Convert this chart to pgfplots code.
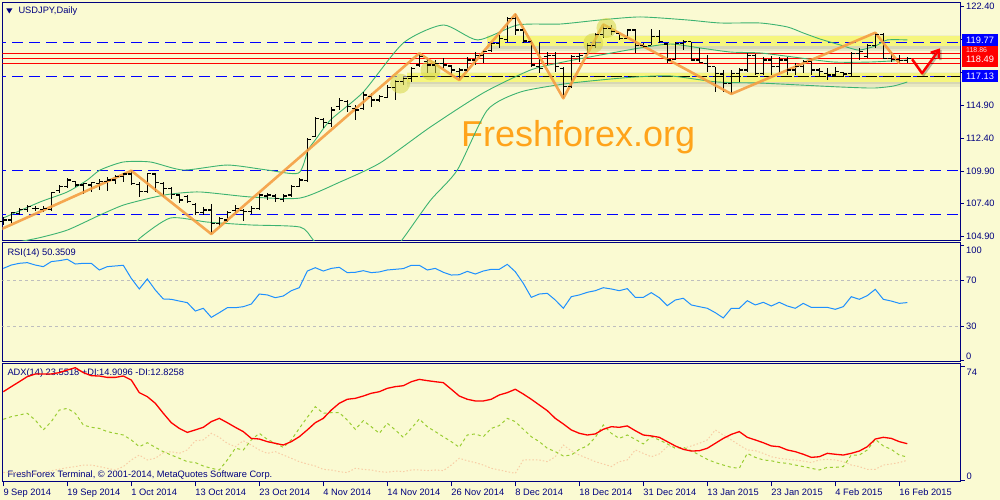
\documentclass[border=0pt]{standalone}
\usepackage{pgfplots}
\pgfplotsset{compat=1.18}
\usepackage{pgfplotstable}
\usepackage{fontspec}
\setmainfont{Liberation Sans}
\usetikzlibrary{arrows.meta}

\definecolor{bgc}{RGB}{250,250,210}
\definecolor{navyc}{RGB}{0,0,128}
\definecolor{bbgreen}{RGB}{60,179,113}
\definecolor{zz}{RGB}{245,158,66}
\definecolor{wm}{RGB}{255,163,26}
\definecolor{bandy}{RGB}{246,246,125}
\definecolor{rsic}{RGB}{30,144,255}
\definecolor{pdic}{RGB}{154,205,50}
\definecolor{mdic}{RGB}{248,205,165}
\definecolor{lvl}{RGB}{190,190,190}
\definecolor{hl}{RGB}{215,215,70}

\newcommand\lbl{\fontsize{9.3}{10}\selectfont}

\pgfdeclareplotmark{openL}{\pgfpathmoveto{\pgfqpoint{-3.5pt}{0pt}}\pgfpathlineto{\pgfqpoint{0pt}{0pt}}\pgfusepathqstroke}
\pgfdeclareplotmark{closeR}{\pgfpathmoveto{\pgfqpoint{0pt}{0pt}}\pgfpathlineto{\pgfqpoint{3.5pt}{0pt}}\pgfusepathqstroke}

\pgfplotstableread{
i O H L C
0 106.04 106.42 105.79 106.17
1 106.17 106.80 105.97 106.73
2 106.68 107.06 106.55 106.98
3 106.98 107.31 106.80 107.18
4 107.06 107.23 106.88 107.06
5 106.98 107.23 106.80 107.06
6 106.98 108.32 106.88 108.25
7 108.40 108.83 108.25 108.70
8 108.70 109.34 108.58 109.21
9 109.09 109.16 108.70 108.83
10 108.83 108.96 108.15 108.96
11 108.83 109.09 108.33 109.01
12 108.96 109.26 108.45 109.09
13 109.09 109.47 108.40 109.21
14 109.21 109.59 108.91 109.47
15 109.47 109.72 109.09 109.67
16 109.67 109.92 108.83 108.96
17 108.88 109.09 107.95 108.33
18 108.33 109.77 108.25 109.72
19 109.67 109.72 108.33 109.01
20 108.96 109.09 107.95 108.58
21 108.55 108.70 107.80 108.10
22 108.07 108.14 107.43 107.69
23 107.94 108.07 107.43 107.56
24 107.38 107.43 106.55 106.72
25 106.72 107.18 106.55 106.93
26 106.93 107.38 105.10 105.91
27 105.91 106.42 105.66 106.29
28 106.17 106.88 106.04 106.72
29 106.88 107.31 106.67 107.06
30 106.88 106.98 106.12 106.80
31 106.80 107.23 106.62 107.06
32 107.06 108.20 106.93 108.07
33 107.99 108.20 107.69 108.07
34 107.99 108.14 107.56 107.81
35 107.74 108.14 107.56 107.99
36 108.07 108.83 107.94 108.70
37 108.75 109.34 108.70 109.21
38 109.16 112.38 109.08 112.30
39 112.51 114.03 112.46 113.90
40 113.83 113.90 113.14 113.57
41 113.52 114.79 113.27 114.54
42 114.79 115.43 114.54 115.25
43 115.20 115.30 114.40 114.80
44 114.67 114.92 113.78 114.54
45 114.67 115.93 114.54 115.68
46 115.55 115.81 114.79 115.30
47 115.30 115.68 115.17 115.55
48 115.50 116.44 115.43 116.26
49 116.26 116.82 115.30 116.70
50 116.70 117.08 116.44 116.95
51 116.95 117.84 116.69 117.71
52 117.96 118.85 117.84 118.60
53 118.22 118.47 117.33 117.96
54 117.96 118.34 117.33 118.09
55 118.09 118.47 117.71 117.96
56 117.89 117.96 117.20 117.58
57 117.46 117.71 116.82 117.58
58 117.58 118.60 117.46 118.34
59 118.34 118.98 117.96 118.72
60 118.72 119.11 118.09 118.98
61 119.10 119.74 118.98 119.61
62 119.61 120.25 119.23 119.99
63 119.87 121.64 119.74 121.51
64 121.51 121.82 120.25 120.63
65 120.63 120.75 119.61 119.79
66 119.74 119.87 117.83 117.96
67 117.83 119.61 117.33 117.71
68 118.60 118.98 117.96 118.72
69 118.72 118.98 117.45 117.83
70 117.70 117.83 115.43 116.31
71 116.31 118.72 116.19 118.60
72 118.60 118.85 118.22 118.72
73 118.85 119.61 118.77 119.48
74 119.43 120.37 119.23 120.25
75 120.25 121.05 119.99 120.75
76 120.75 121.00 120.25 120.50
77 120.37 120.37 119.87 119.99
78 119.99 120.70 119.99 120.63
79 120.63 120.70 118.85 119.48
80 119.48 119.61 119.23 119.36
81 119.48 120.70 119.48 120.12
82 120.12 120.63 119.61 119.74
83 119.56 119.61 118.09 118.34
84 118.39 119.74 118.34 119.61
85 119.61 119.86 119.10 119.74
86 119.74 119.74 118.34 118.34
87 118.34 119.23 118.09 118.14
88 118.09 118.72 117.46 117.83
89 117.83 117.83 115.93 117.33
90 117.28 117.58 115.93 116.57
91 116.57 117.58 115.76 117.33
92 117.33 117.71 116.69 117.58
93 117.58 118.85 117.46 118.72
94 118.72 118.77 117.20 117.33
95 117.33 118.60 117.20 118.34
96 118.34 118.65 117.20 117.83
97 117.83 118.60 117.33 118.34
98 118.34 118.55 117.20 117.58
99 117.58 118.09 117.20 117.83
100 117.83 118.34 117.33 118.22
101 118.22 118.39 117.20 117.58
102 117.58 117.76 117.02 117.46
103 117.33 117.71 116.82 117.20
104 117.20 117.84 117.07 117.46
105 117.38 117.46 117.02 117.28
106 117.33 118.98 117.02 118.85
107 118.85 119.23 118.34 118.98
108 118.60 119.56 118.47 119.48
109 119.48 120.42 119.23 120.25
110 120.25 120.37 118.47 118.47
111 118.47 118.98 118.22 118.39
112 118.39 118.72 118.09 118.29
113 118.29 118.55 118.09 118.49
}\ohlc

\pgfplotstableread{
i p
0 106.32
4.6 107.54
8 108.30
10.5 109.21
12.1 109.97
15 110.58
18.4 110.58
22.5 109.97
28 110.35
33 109.97
36.9 109.74
38.1 111.49
39 112.26
40.9 113.78
45 115.91
50 119.64
55 121.01
59.3 119.87
64.3 121.01
69.6 121.08
74.6 121.39
79.6 121.62
85.5 121.39
89.6 121.16
94.6 121.16
98 120.86
100 120.40
102.1 119.94
104.6 119.49
106.9 119.10
109 119.41
110.5 119.87
113 119.87
}\bbup

\pgfplotstableread{
i p
0 104.30
4.25 104.78
8 105.40
12.1 106.55
15 107.30
18.4 107.84
20.9 108.14
24.6 108.30
30.9 107.92
37.1 107.84
42.1 109.06
47.1 110.51
53.4 113.25
60 115.84
65.9 117.58
70 118.19
74.6 118.72
79.6 119.26
83.4 119.56
87.1 119.26
90.9 118.95
94.6 118.88
98.75 118.57
103.75 118.19
108.4 118.19
113 118.34
}\bbmid

\pgfplotstableread{
i p
15.5 103.60
17.1 104.80
20.9 106.32
25.5 106.01
30.9 105.79
37.1 105.63
38.75 104.64
41 103.20
45 102.30
48 103.30
50 104.78
53.4 107.67
56.75 109.97
60.5 114.53
64.6 115.90
70 116.51
74.6 116.82
79 117.05
83.4 117.13
89.25 116.67
94.6 116.59
99.6 116.44
104.6 116.29
108.75 116.21
111.25 116.36
113 116.67
}\bblow

\pgfplotstableread{
i r
0 80.1
1 83.0
2 84.5
3 85.1
4 83.0
5 81.6
6 86.0
7 86.8
8 88.0
9 83.9
10 84.5
11 84.5
12 78.7
13 81.6
14 82.2
15 82.8
16 71.4
17 62.2
18 70.9
19 61.3
20 53.5
21 53.2
22 51.7
23 50.3
24 43.0
25 45.4
26 37.5
27 41.6
28 45.9
29 45.9
30 46.8
31 49.1
32 57.8
33 57.0
34 54.6
35 56.1
36 60.7
37 63.3
38 77.8
39 80.7
40 77.8
41 80.1
42 81.0
43 76.4
44 76.7
45 78.1
46 76.4
47 77.0
48 78.7
49 79.3
50 79.9
51 82.8
52 82.8
53 78.7
54 80.1
55 76.7
56 74.3
57 74.6
58 77.5
59 75.2
60 77.8
61 79.3
62 79.3
63 83.6
64 77.2
65 67.1
66 54.9
67 57.8
68 58.4
69 52.6
70 45.4
71 55.5
72 57.0
73 59.3
74 60.7
75 63.3
76 62.2
77 60.7
78 62.5
79 54.9
80 54.9
81 59.0
82 54.6
83 47.7
84 52.6
85 54.1
86 48.3
87 46.8
88 45.4
89 41.6
90 37.0
91 45.4
92 45.4
93 52.0
94 48.3
95 50.6
96 47.4
97 50.6
98 47.4
99 45.4
100 49.7
101 46.2
102 46.2
103 46.2
104 44.5
105 46.8
106 55.5
107 53.2
108 56.4
109 61.9
110 53.2
111 51.7
112 49.7
113 50.35
}\rsi

\pgfplotstableread{
i adx pdi mdi
0 57.3 39.4 5.0
1 60.6 41.1 5.0
2 63.8 42.2 4.5
3 67.1 43.3 4.0
4 68.8 38.9 4.0
5 68.8 32.5 5.0
6 68.8 37.9 6.0
7 69.7 45.4 7.0
8 71.4 46.5 8.0
9 72.9 43.3 8.7
10 69.7 35.7 9.7
11 67.7 34.2 9.7
12 67.5 33.5 8.7
13 66.6 31.4 7.6
14 66.6 30.3 6.5
15 67.5 29.2 8.7
16 64.9 26.0 13.0
17 56.7 21.6 16.2
18 54.1 24.2 13.0
19 49.8 21.2 14.1
20 43.3 18.4 17.7
21 37.2 16.2 18.4
22 33.5 14.1 17.3
23 30.9 11.9 19.5
24 32.5 11.3 25.5
25 34.2 9.1 26.0
26 37.9 7.6 30.3
27 40.0 6.5 27.7
28 37.2 13.0 23.8
29 34.2 20.6 21.6
30 31.4 19.5 25.5
31 27.0 26.0 22.7
32 26.6 30.3 19.5
33 24.9 26.4 17.3
34 23.8 23.8 18.4
35 22.7 21.2 16.2
36 24.9 26.0 14.1
37 28.1 33.5 11.9
38 32.5 40.7 10.4
39 37.2 47.6 9.1
40 40.0 43.3 6.9
41 45.4 43.7 6.5
42 49.8 43.7 5.4
43 52.4 38.9 4.8
44 53.0 32.9 7.6
45 54.5 38.5 6.9
46 56.3 34.6 6.5
47 57.3 30.3 5.4
48 59.5 36.8 5.0
49 60.6 32.5 5.8
50 61.2 27.7 5.4
51 63.8 33.5 6.5
52 65.3 39.6 6.5
53 64.5 34.6 6.1
54 63.8 31.4 6.5
55 63.2 28.1 6.1
56 58.9 24.9 9.7
57 54.5 21.2 14.1
58 52.4 29.2 12.5
59 51.3 29.9 11.3
60 51.3 28.1 9.7
61 52.4 33.5 7.6
62 55.2 35.3 6.5
63 56.7 40.0 5.4
64 58.9 37.9 4.3
65 55.8 32.9 13.0
66 52.4 28.1 13.0
67 48.7 24.9 13.0
68 45.0 20.6 11.9
69 40.0 18.4 15.1
70 36.4 15.6 22.7
71 32.5 16.2 19.0
72 30.3 19.9 16.2
73 29.2 22.1 14.1
74 29.9 27.7 11.9
75 32.9 35.7 10.4
76 34.6 30.3 8.7
77 34.2 27.0 11.9
78 35.1 29.2 13.0
79 32.0 26.4 19.5
80 29.2 23.4 17.3
81 28.6 28.1 15.1
82 27.7 26.0 16.9
83 24.9 23.4 21.6
84 22.1 20.6 22.1
85 19.9 21.2 20.6
86 18.8 19.0 22.1
87 19.0 16.2 23.8
88 20.6 13.4 26.0
89 23.8 11.3 32.5
90 27.0 9.7 29.2
91 29.6 8.2 26.0
92 31.4 7.6 22.7
93 27.7 17.3 19.5
94 26.0 14.7 19.0
95 24.2 13.0 17.3
96 22.1 12.5 15.1
97 21.6 11.3 14.1
98 19.5 10.8 13.4
99 18.4 9.7 13.0
100 16.7 8.7 12.3
101 14.7 7.6 11.3
102 15.1 6.5 13.0
103 17.3 8.2 13.4
104 16.7 8.2 13.0
105 16.2 8.7 11.9
106 17.3 16.2 9.7
107 18.8 16.2 8.7
108 21.6 19.5 6.9
109 26.6 26.4 6.9
110 27.7 22.1 9.7
111 27.0 19.9 10.4
112 24.9 16.2 11.3
113 23.55 14.91 12.83
}\adx

\pgfplotsset{
  mtaxis/.style={
    scale only axis, width=957.7pt, xmin=-0.125, xmax=119.59,
    axis line style={navyc, line width=1pt},
    tick style={navyc, line width=0.8pt},
    tick align=outside, major tick length=4pt,
    ytick pos=right, yticklabel pos=right,
    yticklabel style={font=\lbl, text=navyc, anchor=west, inner sep=0pt, xshift=2pt},
    xtick=\empty, anchor=south west,
  },
}

\begin{document}
\begin{tikzpicture}
\fill[bgc] (0pt,0pt) rectangle (1000pt,500pt);
% header texts
\fill[navyc] (6.3pt,491.5pt) -- (12.3pt,491.5pt) -- (9.3pt,486.5pt) -- cycle;
\node[anchor=west, inner sep=0pt, font=\lbl, text=navyc] at (18.3pt,489pt) {USDJPY,Daily};
\node[anchor=west, inner sep=0pt, font=\lbl, text=navyc] at (7.3pt,247.3pt) {RSI(14) 50.3509};
\node[anchor=west, inner sep=0pt, font=\lbl, text=navyc] at (7.3pt,126.7pt) {ADX(14) 23.5518 +DI:14.9096 -DI:12.8258};
\node[anchor=west, inner sep=0pt, font=\lbl, text=navyc] at (7.3pt,25pt) {FreshForex Terminal, \textcopyright{} 2001-2014, MetaQuotes Software Corp.};

% ---------- price panel ----------
\begin{axis}[mtaxis, at={(2.3pt,259pt)}, height=238.5pt,
  ymin=104.569, ymax=122.72,
  ytick={104.9,107.4,109.9,112.4,114.9,117.4,119.9,122.4},
  yticklabels={104.90,107.40,109.90,112.40,114.90,{},{},122.40}]
  \node[anchor=base west, inner sep=0pt, text=wm, font=\fontsize{36}{40}\selectfont] at (axis cs:57.2,111.75) {Freshforex.org};
  % highlighted bands with a soft shadow below
  \fill[black, opacity=0.07] (axis cs:60.5,119.41) rectangle (axis cs:125,119.03);
  \fill[black, opacity=0.07] (axis cs:60.5,119.41) rectangle (axis cs:125,119.20);
  \fill[black, opacity=0.04] (axis cs:60.5,120.25) rectangle (axis cs:125,120.17);
  \fill[bandy] (axis cs:60.5,120.17) rectangle (axis cs:125,119.41);
  \fill[black, opacity=0.07] (axis cs:50.5,116.69) rectangle (axis cs:125,116.31);
  \fill[black, opacity=0.07] (axis cs:50.5,116.69) rectangle (axis cs:125,116.48);
  \fill[black, opacity=0.04] (axis cs:50.5,117.46) rectangle (axis cs:125,117.38);
  \fill[bandy] (axis cs:50.5,117.38) rectangle (axis cs:125,116.69);
  % horizontal levels
  \addplot[blue, line width=1pt, dash pattern=on 11pt off 6pt] coordinates {(-1,119.70) (125,119.70)};
  \addplot[blue, line width=1pt, dash pattern=on 11pt off 6pt] coordinates {(-1,117.05) (125,117.05)};
  \addplot[black, line width=1pt, dash pattern=on 11pt off 6pt] coordinates {(50.5,117.05) (125,117.05)};
  \addplot[blue, line width=1pt, dash pattern=on 11pt off 6pt] coordinates {(-1,109.93) (125,109.93)};
  \addplot[blue, line width=1pt, dash pattern=on 11pt off 6pt] coordinates {(-1,106.60) (125,106.60)};
  \addplot[red, line width=1pt] coordinates {(-1,118.85) (125,118.85)};
  \addplot[red, line width=1pt] coordinates {(-1,118.42) (125,118.42)};
  \addplot[red, line width=1pt] coordinates {(-1,118.09) (125,118.09)};
  % bollinger bands
  \addplot[bbgreen, line width=0.9pt, smooth, tension=0.4] table[x=i,y=p] {\bbup};
  \addplot[bbgreen, line width=0.9pt, smooth, tension=0.4] table[x=i,y=p] {\bbmid};
  \addplot[bbgreen, line width=0.9pt, smooth, tension=0.4] table[x=i,y=p] {\bblow};
  % OHLC bars
  \addplot[draw=none, mark=none, forget plot,
    error bars/.cd, y dir=both, y explicit, error mark=none,
    error bar style={black, line width=1.1pt}]
    table[x=i, y expr={(\thisrow{H}+\thisrow{L})/2}, y error expr={(\thisrow{H}-\thisrow{L})/2}] {\ohlc};
  \addplot[only marks, mark=openL, mark options={black, line width=1.1pt}] table[x=i,y=O] {\ohlc};
  \addplot[only marks, mark=closeR, mark options={black, line width=1.1pt}] table[x=i,y=C] {\ohlc};
  % zigzag
  \addplot[zz, line width=2.6pt, line join=round, opacity=0.9] coordinates {
    (-0.4,105.43) (16,109.92) (26,105.10) (52,118.85) (57,116.82) (64,121.82)
    (70,115.43) (75,121.05) (91,115.76) (109,120.42) (112,118.09)};
  % highlight circles
  \fill[hl, opacity=0.55] (axis cs:49.6,116.55) circle[radius=10pt];
  \fill[hl, opacity=0.55] (axis cs:53.4,117.55) circle[radius=10pt];
  \fill[hl, opacity=0.55] (axis cs:73.75,119.62) circle[radius=10pt];
  \fill[hl, opacity=0.55] (axis cs:75.4,120.78) circle[radius=10pt];
  % red arrow
  \draw[black, opacity=0.25, line width=2.4pt, -{Straight Barb[length=7pt,width=10pt]}] ([xshift=1.5pt,yshift=-1.5pt]axis cs:113.6,118.40) -- ([xshift=1.5pt,yshift=-1.5pt]axis cs:114.84,117.33) -- ([xshift=1.5pt,yshift=-1.5pt]axis cs:117.1,119.23);
  \draw[red, line width=2.4pt, line join=round, -{Straight Barb[length=7pt,width=10pt]}] (axis cs:113.6,118.40) -- (axis cs:114.84,117.33) -- (axis cs:117.1,119.23);
\end{axis}

% ---------- RSI panel ----------
\begin{axis}[mtaxis, at={(2.3pt,138pt)}, height=119pt,
  ymin=-1.30, ymax=102.17,
  ytick={0,30,70,100},
  yticklabels={\raisebox{4.8pt}[7pt][0pt]{0},30,70,\raisebox{-4.5pt}[7pt][0pt]{100}}]
  \addplot[lvl, line width=0.9pt, dash pattern=on 3pt off 3pt] coordinates {(-1,70) (125,70)};
  \addplot[lvl, line width=0.9pt, dash pattern=on 3pt off 3pt] coordinates {(-1,30) (125,30)};
  \addplot[rsic, line width=1pt] table[x=i,y=r] {\rsi};
\end{axis}

% ---------- ADX panel ----------
\begin{axis}[mtaxis, at={(2.3pt,18pt)}, height=118pt,
  ymin=-1.30, ymax=75.30,
  ytick={0,74},
  yticklabels={\raisebox{4.3pt}[7pt][0pt]{0},\raisebox{-5.7pt}[7pt][0pt]{74}},
  xtick={0,8,...,112}, xtick pos=left, xticklabel pos=left, major tick length=4.5pt,
  xticklabels={9 Sep 2014,19 Sep 2014,1 Oct 2014,13 Oct 2014,23 Oct 2014,4 Nov 2014,14 Nov 2014,26 Nov 2014,8 Dec 2014,18 Dec 2014,31 Dec 2014,13 Jan 2015,23 Jan 2015,4 Feb 2015,16 Feb 2015},
  xticklabel style={font=\lbl, text=navyc, anchor=north west, inner sep=0pt, yshift=-2pt}]
  \addplot[mdic, line width=1pt, dash pattern=on 1.5pt off 2pt] table[x=i,y=mdi] {\adx};
  \addplot[pdic, line width=1pt, dash pattern=on 3pt off 3pt] table[x=i,y=pdi] {\adx};
  \addplot[red, line width=1.3pt] table[x=i,y=adx] {\adx};
\end{axis}

% ---------- price labels on right ----------
\fill[blue] (962pt,454pt) rectangle (998pt,465.5pt);
\node[anchor=west, inner sep=0pt, font=\lbl, text=white] at (966pt,459.7pt) {119.77};
\fill[red] (962pt,433.3pt) rectangle (998pt,454pt);
\node[anchor=west, inner sep=0pt, font=\fontsize{7}{8}\selectfont, text=white!85!red] at (966pt,449.8pt) {118.86};
\node[anchor=west, inner sep=0pt, font=\lbl, text=white] at (966pt,440.3pt) {118.49};
\fill[blue] (962pt,418.3pt) rectangle (998pt,430pt);
\node[anchor=west, inner sep=0pt, font=\lbl, text=white] at (966pt,424pt) {117.13};

\pgfresetboundingbox
\useasboundingbox (0pt,0pt) rectangle (1000pt,500pt);
\end{tikzpicture}
\end{document}
